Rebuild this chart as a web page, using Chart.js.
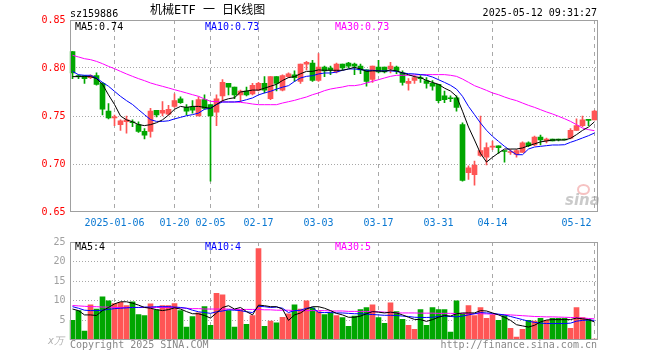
<!DOCTYPE html>
<html><head><meta charset="utf-8">
<script src="https://cdn.jsdelivr.net/npm/chart.js@4/dist/chart.umd.min.js"></script>
<style>
html,body{margin:0;padding:0;background:#fff;}
#wrap{position:relative;width:660px;height:360px;overflow:hidden;background:#fff;}
canvas{position:absolute;left:0;}
.t{position:absolute;font:10px "DejaVu Sans Mono",monospace;line-height:10px;white-space:pre;color:#000;}
</style></head><body>
<div id="wrap">
<canvas id="k" width="660" height="232" style="top:0;width:660px;height:232px"></canvas>
<canvas id="v" width="660" height="128" style="top:232px;width:660px;height:128px"></canvas>
<div class="t" style="left:70px;top:9px">sz159886</div>
<div class="t" style="left:150px;top:4px;font-size:12px;line-height:13px;font-family:'DejaVu Sans Mono','Noto Sans CJK SC',monospace">机械ETF 一 日K线图</div>
<div class="t" style="right:63px;top:8px">2025-05-12 09:31:27</div>
<div class="t" style="left:75px;top:21.5px">MA5:0.74</div>
<div class="t" style="left:205px;top:21.5px;color:#0000ff">MA10:0.73</div>
<div class="t" style="left:335px;top:21.5px;color:#ff00ff">MA30:0.73</div>
<div class="t" style="left:75px;top:242px">MA5:4</div>
<div class="t" style="left:205px;top:242px;color:#0000ff">MA10:4</div>
<div class="t" style="left:335px;top:242px;color:#ff00ff">MA30:5</div>
<div class="t" style="left:48px;top:336px;color:#b0b0b0;font-style:italic">x万</div>
<div class="t" style="left:70px;top:340px;color:#888">Copyright 2025 SINA.COM</div>
<div class="t" style="right:63px;top:340px;color:#888">http://finance.sina.com.cn</div>
<div style="position:absolute;left:577px;top:184px;width:9px;height:7px;border-radius:50%;border:2px solid rgba(235,120,120,0.45)"></div>
<div class="t" style="left:565px;top:193px;font:italic bold 15px 'DejaVu Sans',sans-serif;line-height:15px;color:rgba(150,150,150,0.5)">sina</div>
</div>
<script>
const dates = ['2024-12-25','2024-12-26','2024-12-27','2024-12-30','2024-12-31','2025-01-02','2025-01-03','2025-01-06','2025-01-07','2025-01-08',
'2025-01-09','2025-01-10','2025-01-13','2025-01-14','2025-01-15','2025-01-16','2025-01-17','2025-01-20','2025-01-21','2025-01-22',
'2025-01-23','2025-01-24','2025-01-27','2025-02-05','2025-02-06','2025-02-07','2025-02-10','2025-02-11','2025-02-12','2025-02-13',
'2025-02-14','2025-02-17','2025-02-18','2025-02-19','2025-02-20','2025-02-21','2025-02-24','2025-02-25','2025-02-26','2025-02-27',
'2025-02-28','2025-03-03','2025-03-04','2025-03-05','2025-03-06','2025-03-07','2025-03-10','2025-03-11','2025-03-12','2025-03-13',
'2025-03-14','2025-03-17','2025-03-18','2025-03-19','2025-03-20','2025-03-21','2025-03-24','2025-03-25','2025-03-26','2025-03-27',
'2025-03-28','2025-03-31','2025-04-01','2025-04-02','2025-04-03','2025-04-07','2025-04-08','2025-04-09','2025-04-10','2025-04-11',
'2025-04-14','2025-04-15','2025-04-16','2025-04-17','2025-04-18','2025-04-21','2025-04-22','2025-04-23','2025-04-24','2025-04-25',
'2025-04-28','2025-04-29','2025-04-30','2025-05-06','2025-05-07','2025-05-08','2025-05-09','2025-05-12'];

const tickDates  = ['2025-01-06','2025-01-20','2025-02-05','2025-02-17','2025-03-03','2025-03-17','2025-03-31','2025-04-14','2025-05-12'];
const tickLabels = ['2025-01-06','01-20','02-05','02-17','03-03','03-17','03-31','04-14','05-12'];
const priceTicks = [0.65, 0.70, 0.75, 0.80, 0.85];
const volTicks = [0, 5, 10, 15, 20, 25];

const opens = [.817,.792,.792,.790,.792,.784,.755,.748,.741,.744,
.744,.741,.734,.734,.756,.753,.752,.760,.768,.759,
.759,.750,.767,.762,.754,.771,.784,.780,.772,.776,
.773,.777,.784,.768,.791,.777,.791,.793,.786,.804,
.805,.787,.801,.800,.796,.804,.805,.804,.802,.798,
.788,.801,.801,.799,.801,.795,.784,.787,.790,.787,
.784,.783,.771,.769,.769,.741,.691,.689,.709,.707,
.7175,.719,.714,.712,.710,.712,.722,.720,.728,.724,
.726,.7255,.726,.727,.735,.740,.746,.746];
const highs = [.817,.793,.792,.793,.795,.785,.763,.751,.746,.750,
.746,.744,.737,.758,.756,.765,.761,.773,.770,.762,
.766,.770,.772,.762,.772,.788,.784,.780,.777,.780,
.784,.785,.791,.791,.791,.793,.795,.797,.804,.807,
.808,.815,.802,.802,.805,.804,.806,.805,.804,.798,
.802,.808,.801,.806,.802,.797,.789,.792,.792,.790,
.787,.783,.776,.771,.771,.743,.698,.703,.750,.722,
.724,.719,.714,.715,.715,.723,.723,.729,.730,.727,
.726,.726,.726,.737,.747,.750,.746,.756];
const lows = [.789,.789,.784,.789,.782,.751,.747,.740,.735,.732,
.739,.733,.726,.728,.749,.750,.751,.759,.763,.751,
.753,.750,.757,.682,.740,.765,.772,.768,.765,.771,
.772,.776,.774,.767,.776,.776,.790,.786,.784,.798,
.786,.786,.791,.793,.795,.798,.800,.793,.794,.781,
.785,.795,.795,.795,.794,.782,.777,.784,.785,.779,
.777,.764,.764,.765,.755,.682,.684,.678,.708,.699,
.715,.711,.702,.710,.707,.712,.718,.719,.720,.722,
.724,.724,.725,.726,.735,.739,.740,.746];
const closes = [.795,.791,.789,.792,.783,.757,.748,.749,.745,.746,
.743,.734,.730,.755,.751,.756,.757,.766,.764,.755,
.756,.767,.758,.750,.768,.785,.780,.772,.776,.772,
.782,.784,.777,.791,.784,.792,.794,.790,.804,.806,
.787,.801,.797,.798,.804,.800,.802,.802,.798,.786,
.802,.796,.796,.802,.797,.785,.786,.790,.789,.784,
.781,.766,.767,.768,.759,.683,.696,.699,.714,.717,
.718,.717,.713,.7125,.714,.722,.719,.728,.725,.726,
.724,.725,.725,.735,.740,.746,.7455,.755];

const ma5 = [.791,.791,.791,.791,.789,.783,.772,.762,.750,.746,
.744,.741,.740,.741,.743,.746,.751,.757,.760,.759,
.760,.760,.759,.758,.762,.766,.768,.769,.775,.776,
.777,.777,.779,.781,.783,.787,.790,.791,.794,.7965,
.7965,.798,.7976,.7976,.7976,.7976,.799,.8007,.799,.7965,
.797,.797,.7965,.798,.797,.795,.793,.791,.790,.787,
.785,.783,.779,.776,.7705,.755,.7385,.725,.711,.702,
.707,.7115,.7156,.7156,.7156,.7167,.719,.721,.723,.724,
.725,.725,.725,.7267,.7306,.735,.7385,.744];
const ma10 = [.7965,.793,.7924,.7924,.7896,.785,.781,.7757,.7705,.766,
.762,.7566,.7514,.7462,.7444,.7444,.745,.747,.7486,.7503,
.7514,.753,.757,.758,.762,.7646,.7646,.7646,.7653,.767,
.7688,.772,.774,.7757,.778,.780,.7816,.786,.7896,.7913,
.792,.7938,.7948,.7948,.7958,.7976,.799,.799,.7983,.7976,
.7976,.797,.797,.797,.7965,.7948,.7941,.7938,.7931,.7924,
.7906,.7878,.785,.782,.778,.7705,.760,.7514,.7427,.7351,
.7288,.7236,.7184,.7139,.7097,.7097,.7156,.7177,.7184,.7191,
.7198,.7198,.7201,.7226,.7247,.7271,.7295,.7323];
const ma30 = [.8132,.8115,.8097,.8087,.8069,.8045,.8017,.7993,.7965,.7938,
.7913,.7889,.7868,.7844,.7826,.7809,.7792,.7774,.7757,.774,
.7722,.7705,.7677,.7653,.7649,.7646,.7646,.7646,.7642,.7635,
.7625,.7618,.7618,.7618,.7618,.7635,.7649,.7663,.7681,.7698,
.7722,.774,.7764,.7781,.7792,.7802,.7816,.7816,.7826,.7844,
.7861,.7878,.7896,.7913,.7924,.7924,.7924,.7927,.7931,.7931,
.7931,.7931,.7931,.7924,.7913,.7885,.7851,.7816,.7792,.7767,
.774,.7722,.7698,.7677,.766,.7635,.7611,.759,.7566,.7542,
.7521,.7497,.7472,.7444,.741,.7375,.7358,.7347];

const volume = [5.0,7.5,2.25,9.0,7.9,11.0,10.0,9.3,9.6,8.75,
9.75,6.5,6.25,9.25,7.7,8.75,8.75,9.3,7.5,3.3,
6.0,6.9,8.5,3.75,11.9,11.5,7.5,3.3,7.7,4.0,
6.25,23.3,3.5,4.8,4.4,5.8,6.7,9.0,7.9,10.0,
8.2,7.25,6.5,6.9,6.25,5.75,3.5,6.1,7.75,8.25,
9.0,5.75,4.25,9.5,7.25,5.25,3.75,2.75,7.75,3.75,
8.25,7.75,7.75,2.0,10.0,6.7,8.75,6.25,8.25,5.5,
6.4,5.0,6.25,3.0,0.75,2.75,5.0,4.8,5.5,5.0,
5.5,5.5,5.5,3.0,8.25,5.75,5.25,0.25];
const volMa5 = [7.9,7.5,6.4,6.4,6.25,7.5,8.3,9.2,9.75,9.75,
9.4,8.9,8.3,8.1,7.75,7.5,7.75,8.2,7.9,7.25,
6.7,6.7,6.25,5.6,6.9,8.3,8.75,7.9,8.3,7.25,
6.4,8.9,8.75,8.5,8.5,7.9,5.0,6.4,6.9,7.9,
8.5,8.5,8.1,7.5,6.8,6.4,5.8,5.8,6.1,6.7,
7.25,7.1,6.9,7.1,6.9,6.4,5.8,5.25,5.2,4.75,
5.2,5.8,6.25,6.1,6.7,6.9,6.9,6.9,7.5,7.4,
6.9,6.4,5.8,5.0,3.9,3.6,3.3,3.75,4.6,5.1,
5.2,5.2,5.2,5.2,5.6,5.4,5.2,4.6];
const volMa10 = [8.5,8.1,7.6,7.5,7.5,7.6,7.8,8.0,8.1,8.2,
8.3,8.3,8.4,8.4,8.5,8.5,8.5,8.4,8.3,8.1,
7.6,7.2,7.0,6.8,7.2,7.4,7.7,7.6,7.5,7.2,
7.0,8.6,8.5,8.3,8.4,8.1,7.0,7.5,7.6,8.1,
8.3,7.0,7.0,7.0,6.9,6.9,6.8,6.7,6.7,6.6,
6.5,6.4,6.3,6.3,6.25,6.1,6.0,5.8,5.75,5.75,
5.8,6.0,6.1,6.0,5.9,6.1,6.4,6.7,7.0,6.9,
6.8,6.6,6.4,6.0,5.6,5.2,4.8,4.5,4.3,4.2,
4.2,4.2,4.2,4.3,4.8,5.0,5.1,5.0];
const volMa30 = [8.8,8.7,8.6,8.5,8.5,8.4,8.4,8.3,8.3,8.3,
8.3,8.3,8.3,8.3,8.3,8.3,8.3,8.3,8.2,8.1,
8.0,8.0,7.9,7.9,7.9,7.9,7.9,7.8,7.8,7.8,
7.8,7.8,7.7,7.7,7.6,7.6,7.6,7.5,7.5,7.5,
7.5,7.5,7.5,7.4,7.4,7.4,7.3,7.3,7.3,7.3,
7.2,7.2,7.1,7.0,6.9,6.9,6.9,6.9,6.85,6.85,
6.85,6.8,6.8,6.8,6.75,6.75,6.7,6.7,6.7,6.65,
6.6,6.5,6.45,6.4,6.3,6.2,6.1,6.0,5.95,5.9,
5.9,5.85,5.8,5.75,5.7,5.6,5.5,5.4];

const RED = '#ff5555', GREEN = '#00a600', GRID = '#a8a8a8', FRAME = '#a0a0a0';
const MONO = 'DejaVu Sans Mono';
const isUp = i => closes[i] >= opens[i];
const barColor = c => isUp(c.dataIndex) ? RED : GREEN;
const tickSet = new Set(tickDates.map(d => dates.indexOf(d)));

const framePlugin = {
  id: 'frame',
  afterDraw(chart) {
    const a = chart.chartArea, ctx = chart.ctx;
    ctx.save();
    ctx.strokeStyle = FRAME; ctx.lineWidth = 1;
    const l = Math.round(a.left) + 0.5, t = Math.round(a.top) + 0.5;
    const r = Math.round(a.right) - 0.5, b = Math.round(a.bottom) - 0.5;
    ctx.strokeRect(l, t, r - l, b - t);
    ctx.restore();
  }
};

function lineDs(label, data, color) {
  return { type: 'line', label, data, borderColor: color, borderWidth: 1, pointRadius: 0,
           tension: 0, fill: false, order: 0 };
}

function tickText(i) {
  const k = tickDates.indexOf(dates[i]);
  if (k < 0) return '';
  // last label is kept inside the frame (pushed left like the original)
  return k === tickLabels.length - 1 ? tickLabels[k] + '      ' : tickLabels[k];
}

function xScale(showLabels) {
  return {
    type: 'category', labels: dates, offset: true,
    grid: { offset: false, drawTicks: false, lineWidth: 1,
            color: c => tickSet.has(c.index) ? GRID : 'rgba(0,0,0,0)' },
    border: { display: false, dash: [4, 4] },
    ticks: { display: showLabels, autoSkip: false, maxRotation: 0, minRotation: 0, padding: 5,
             color: '#0a78d2', font: { family: MONO, size: 10 },
             callback: (v, i) => tickText(i) },
    afterFit: s => { s.height = 20; }
  };
}

const common = {
  responsive: false, animation: false, events: [],
  plugins: { legend: { display: false }, tooltip: { enabled: false } }
};

new Chart(document.getElementById('k'), {
  type: 'bar',
  data: {
    labels: dates,
    datasets: [
      lineDs('MA5', ma5, '#000000'),
      lineDs('MA10', ma10, '#0000ff'),
      lineDs('MA30', ma30, '#ff00ff'),
      { type: 'bar', label: 'body', data: opens.map((o, i) => [o, closes[i]]),
        backgroundColor: barColor, barThickness: 5, grouped: false, minBarLength: 1, order: 1 },
      { type: 'bar', label: 'wick', data: lows.map((l, i) => [l, highs[i]]),
        backgroundColor: barColor, barThickness: 1, grouped: false, order: 2 }
    ]
  },
  options: Object.assign({}, common, {
    layout: { padding: { top: 20, right: 62.5, left: 0, bottom: 0 } },
    scales: {
      x: xScale(true),
      y: {
        min: priceTicks[0], max: priceTicks[priceTicks.length - 1],
        afterBuildTicks: s => { s.ticks = priceTicks.map(v => ({ value: v })); },
        grid: { drawTicks: false, lineWidth: 1,
                color: c => (c.tick && c.tick.value > priceTicks[0] + 1e-6 && c.tick.value < priceTicks[priceTicks.length - 1] - 1e-6) ? GRID : 'rgba(0,0,0,0)' },
        border: { display: false, dash: [1, 2] },
        ticks: { color: '#ff0000', padding: 4, font: { family: MONO, size: 10 },
                 callback: v => Number(v).toFixed(2) },
        afterFit: s => { s.width = 69.5; }
      }
    }
  }),
  plugins: [framePlugin]
});

new Chart(document.getElementById('v'), {
  type: 'bar',
  data: {
    labels: dates,
    datasets: [
      lineDs('MA5', volMa5, '#000000'),
      lineDs('MA10', volMa10, '#0000ff'),
      lineDs('MA30', volMa30, '#ff00ff'),
      { type: 'bar', label: 'volume', data: volume, backgroundColor: barColor,
        barThickness: 5, grouped: false, order: 1 }
    ]
  },
  options: Object.assign({}, common, {
    layout: { padding: { top: 8, right: 62.5, left: 0, bottom: 0 } },
    scales: {
      x: xScale(false),
      y: {
        min: volTicks[0], max: volTicks[volTicks.length - 1],
        afterBuildTicks: s => { s.ticks = volTicks.map(v => ({ value: v })); },
        grid: { drawTicks: false, lineWidth: 1,
                color: c => (c.tick && c.tick.value > volTicks[0] && c.tick.value < volTicks[volTicks.length - 1]) ? GRID : 'rgba(0,0,0,0)' },
        border: { display: false, dash: [1, 2] },
        ticks: { color: '#a0a0a0', padding: 4, font: { family: MONO, size: 10 },
                 callback: v => v === 0 ? '' : String(v) },
        afterFit: s => { s.width = 69.5; }
      }
    }
  }),
  plugins: [framePlugin]
});
</script>
</body></html>
